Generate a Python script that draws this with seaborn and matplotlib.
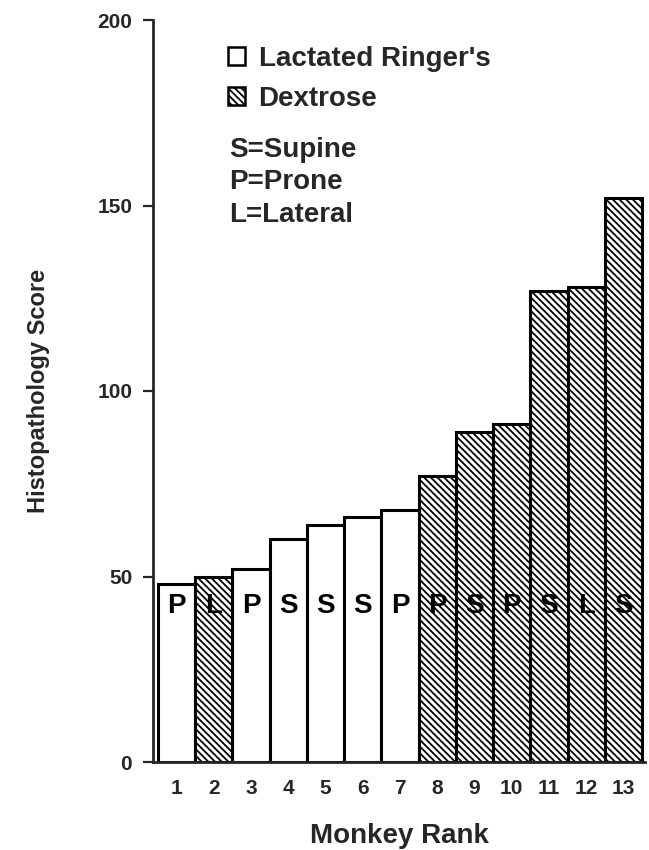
import numpy as np
import pandas as pd
import matplotlib
matplotlib.use("Agg")
import matplotlib.pyplot as plt
from matplotlib.patches import Patch
import seaborn as sns

# values
ranks = [str(i) for i in range(1, 14)]
scores = [48, 50, 52, 60, 64, 66, 68, 77, 89, 91, 127, 128, 152]
fluid = ["Lactated Ringer's", "Dextrose", "Lactated Ringer's", "Lactated Ringer's",
         "Lactated Ringer's", "Lactated Ringer's", "Lactated Ringer's", "Dextrose",
         "Dextrose", "Dextrose", "Dextrose", "Dextrose", "Dextrose"]
position = ["P", "L", "P", "S", "S", "S", "P", "P", "S", "P", "S", "L", "S"]
fluid_order = ["Lactated Ringer's", "Dextrose"]
hatches = {"Lactated Ringer's": "", "Dextrose": "\\" * 5}
y_ticks = [0, 50, 100, 150, 200]

df = pd.DataFrame({"rank": ranks, "score": scores, "fluid": fluid, "pos": position})

sns.set_style("ticks")
plt.rcParams["font.family"] = ["Liberation Sans", "DejaVu Sans"]
plt.rcParams["font.weight"] = "bold"
plt.rcParams["hatch.linewidth"] = 1.3
plt.rcParams["hatch.color"] = "black"

fig = plt.figure(figsize=(6.49, 8.5), dpi=100)
ax = fig.add_axes([153 / 649, 88 / 850, (645 - 153) / 649, 742 / 850])

sns.barplot(data=df, x="rank", y="score", hue="fluid", hue_order=fluid_order,
            dodge=False, palette={k: "white" for k in fluid_order},
            edgecolor="black", linewidth=2.2, width=1.0, legend=False, ax=ax)

for cont, lvl in zip(ax.containers, fluid_order):
    for bar in cont:
        bar.set_hatch(hatches[lvl])

# position letters inside each bar
for i, p in enumerate(position):
    ax.text(i, 42, p, ha="center", va="center", fontsize=20, fontweight="bold",
            color="black", zorder=10)

ax.set_ylim(0, 200)
ax.set_xlim(-0.634, 12.58)
ax.set_yticks(y_ticks)
ax.tick_params(axis="y", direction="out", length=7, width=1.6, pad=8, labelsize=15)
ax.tick_params(axis="x", length=0, pad=12, labelsize=15)
sns.despine(ax=ax)
for s in ["left", "bottom"]:
    ax.spines[s].set_linewidth(2)

ax.set_xlabel("Monkey Rank", fontsize=20, fontweight="bold", labelpad=18)
ax.set_ylabel("Histopathology Score", fontsize=17, fontweight="bold", labelpad=34)

handles = [Patch(facecolor="white", edgecolor="black", linewidth=1.8, hatch=hatches[k]) for k in fluid_order]
fig.legend(handles, fluid_order, loc="upper left", bbox_to_anchor=(228 / 649, 1 - 46 / 850),
           frameon=False, fontsize=20, handlelength=0.6, handleheight=0.6,
           handletextpad=0.5, labelspacing=0.5, borderpad=0, borderaxespad=0)

for txt, yp in [("S=Supine", 150), ("P=Prone", 182), ("L=Lateral", 215)]:
    fig.text(229 / 649, 1 - yp / 850, txt, ha="left", va="center", fontsize=20, fontweight="bold")

fig.savefig("out.png", dpi=100)
